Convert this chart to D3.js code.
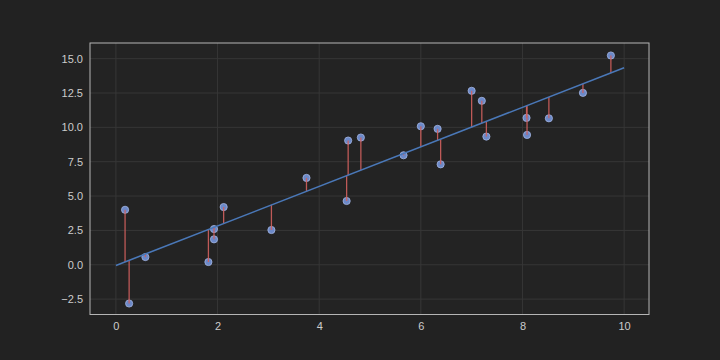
<!DOCTYPE html>
<html><head><meta charset="utf-8">
<script src="https://cdn.jsdelivr.net/npm/d3@7"></script>
<style>html,body{margin:0;padding:0;background:#222222;}svg{display:block;}</style>
</head><body>
<script>
const xs = [0.18,0.26,0.58,1.82,1.93,1.93,2.12,3.06,3.75,4.54,4.57,4.82,5.66,6.00,6.33,6.39,7.00,7.20,7.29,8.08,8.09,8.52,9.19,9.74];
const ys = [4.00,-2.82,0.56,0.20,1.85,2.60,4.20,2.53,6.32,4.64,9.04,9.26,7.97,10.08,9.89,7.31,12.66,11.93,9.33,10.69,9.45,10.66,12.51,15.23];
const lineX = [0, 10];
const lineY = [-0.05, 14.33];
const xTicks = [0,2,4,6,8,10];
const yTicks = [-2.5,0,2.5,5,7.5,10,12.5,15];

const W = 720, H = 360;
const m = {left: 90, right: 649, top: 43, bottom: 314.5};
const svg = d3.select("body").append("svg").attr("width", W).attr("height", H);
svg.append("rect").attr("width", W).attr("height", H).attr("fill", "#222222");

const x = d3.scaleLinear().domain([-0.51, 10.49]).range([m.left, m.right]);
const y = d3.scaleLinear().domain([-3.62, 16.14]).range([m.bottom, m.top]);

svg.append("rect").attr("x", m.left).attr("y", m.top)
  .attr("width", m.right - m.left).attr("height", m.bottom - m.top).attr("fill", "#232323");

const grid = svg.append("g").attr("stroke", "#363636").attr("stroke-width", 1);
xTicks.forEach(t => grid.append("line").attr("x1", x(t)).attr("x2", x(t)).attr("y1", m.top).attr("y2", m.bottom));
yTicks.forEach(t => grid.append("line").attr("y1", y(t)).attr("y2", y(t)).attr("x1", m.left).attr("x2", m.right));

const fmtY = d => (d < 0 ? "\u2212" : "") + Math.abs(d).toFixed(1);
const xAxis = d3.axisBottom(x).tickValues(xTicks).tickSize(0).tickPadding(8).tickFormat(d3.format("d"));
const yAxis = d3.axisLeft(y).tickValues(yTicks).tickSize(0).tickPadding(7).tickFormat(fmtY);
const gx = svg.append("g").attr("transform", `translate(0,${m.bottom})`).call(xAxis);
const gy = svg.append("g").attr("transform", `translate(${m.left},0)`).call(yAxis);
[gx, gy].forEach(g => {
  g.select(".domain").remove();
  g.selectAll("text").attr("fill", "#cccccc").style("font-family", "Liberation Sans, Arial, sans-serif").style("font-size", "11px");
});

const fit = d3.scaleLinear().domain(lineX).range(lineY);
const data = xs.map((v, i) => ({x: v, y: ys[i]}));

svg.append("g").selectAll("circle").data(data).join("circle")
  .attr("cx", d => x(d.x)).attr("cy", d => y(d.y)).attr("r", 3.6)
  .attr("fill", "#6c89c8").attr("stroke", "#a3b5e2").attr("stroke-width", 0.8);

svg.append("g").selectAll("line").data(data).join("line")
  .attr("x1", d => x(d.x)).attr("x2", d => x(d.x))
  .attr("y1", d => y(d.y)).attr("y2", d => y(fit(d.x)))
  .attr("stroke", "#d0605e").attr("stroke-width", 1.3).attr("opacity", 0.9);

svg.append("path").datum(lineX.map((v, i) => [v, lineY[i]]))
  .attr("d", d3.line().x(d => x(d[0])).y(d => y(d[1])))
  .attr("fill", "none").attr("stroke", "#4a78b8").attr("stroke-width", 1.6);

svg.append("rect").attr("x", m.left).attr("y", m.top)
  .attr("width", m.right - m.left).attr("height", m.bottom - m.top)
  .attr("fill", "none").attr("stroke", "#b5b5b5").attr("stroke-width", 1);
</script>
</body></html>
